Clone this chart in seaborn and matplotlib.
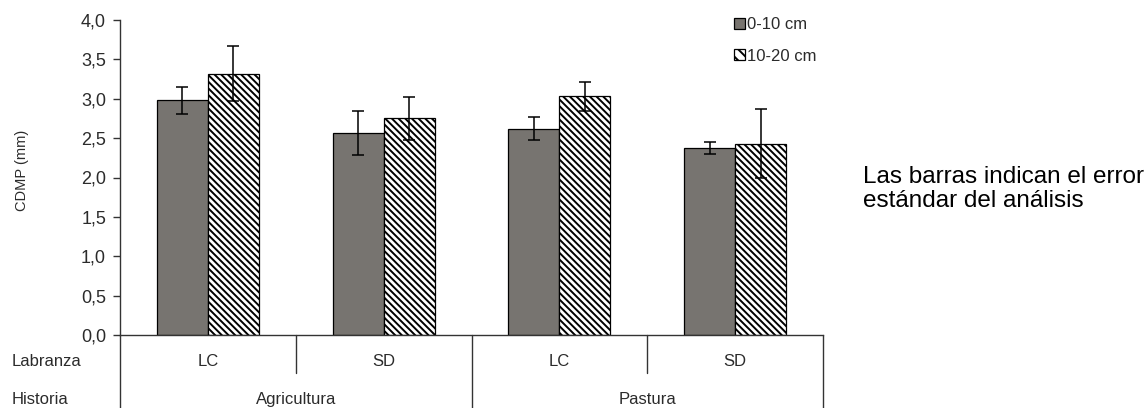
import matplotlib
matplotlib.use("Agg")
import matplotlib.pyplot as plt
import matplotlib.transforms as mtransforms
from matplotlib.lines import Line2D
from matplotlib.patches import Patch
from matplotlib.ticker import FuncFormatter
import pandas as pd
import seaborn as sns

# Mean aggregate diameter (CDMP, mm) by land-use history, tillage and depth
historia = ["Agricultura", "Agricultura", "Pastura", "Pastura"]
labranza = ["LC", "SD", "LC", "SD"]
profundidades = ["0-10 cm", "10-20 cm"]
cdmp_0_10 = [2.98, 2.57, 2.62, 2.37]
cdmp_10_20 = [3.32, 2.75, 3.03, 2.43]
ee_0_10 = [0.17, 0.28, 0.145, 0.075]
ee_10_20 = [0.35, 0.27, 0.18, 0.44]
y_ticks = [0.0, 0.5, 1.0, 1.5, 2.0, 2.5, 3.0, 3.5, 4.0]
nota = "Las barras indican el error\nestándar del análisis"

sns.set_theme(style="white")
plt.rcParams["font.family"] = ["Liberation Sans", "DejaVu Sans"]
plt.rcParams["hatch.linewidth"] = 1.4
plt.rcParams["hatch.color"] = "black"

RAYADO = "\\" * 5

tratamientos = [f"{h}-{l}" for h, l in zip(historia, labranza)]
df = pd.DataFrame({
    "tratamiento": tratamientos * 2,
    "profundidad": [profundidades[0]] * 4 + [profundidades[1]] * 4,
    "cdmp": cdmp_0_10 + cdmp_10_20,
    "ee": ee_0_10 + ee_10_20,
})

W, H = 1145, 408
fig = plt.figure(figsize=(W / 100, H / 100), dpi=100)
ax = fig.add_axes([120 / W, (H - 335) / H, 703 / W, 315 / H])

gris = "#78746f"
txt = "#2b2b2b"
sns.barplot(data=df, x="tratamiento", y="cdmp", hue="profundidad",
            order=tratamientos, hue_order=profundidades,
            palette=[gris, "white"], width=0.58, gap=0,
            errorbar=None, edgecolor="black", linewidth=0.9,
            legend=False, ax=ax)

# hatch the deeper layer and add standard-error bars
bar_groups = list(ax.containers)
for i, cont in enumerate(bar_groups):
    errs = df[df["profundidad"] == profundidades[i]]["ee"].tolist()
    xs, ys = [], []
    for bar in cont:
        if i == 1:
            bar.set_hatch(RAYADO)
        xs.append(bar.get_x() + bar.get_width() / 2)
        ys.append(bar.get_height())
    ax.errorbar(xs, ys, yerr=errs, fmt="none", ecolor="black",
                elinewidth=1.1, capsize=4.5, capthick=1.1, zorder=5)

ax.set_xlim(-0.5, 3.5)
ax.set_ylim(0, 4)
ax.set_yticks(y_ticks)
ax.yaxis.set_major_formatter(FuncFormatter(lambda v, p: f"{v:.1f}".replace(".", ",")))
ax.tick_params(axis="y", left=True, length=5, width=1, color="#333333",
               labelsize=13, labelcolor=txt, pad=5)
ax.tick_params(axis="x", bottom=False, labelbottom=False)
ax.set_xlabel("")
ax.set_ylabel("")
for s in ["top", "right"]:
    ax.spines[s].set_visible(False)
for s in ["left", "bottom"]:
    ax.spines[s].set_color("#333333")
    ax.spines[s].set_linewidth(1)

# category table under the axis
trans = mtransforms.blended_transform_factory(ax.transData, ax.transAxes)
fondo = -0.25
for xv, y0 in [(-0.5, fondo), (0.5, -0.1206), (1.5, fondo), (2.5, -0.1206), (3.5, fondo)]:
    ax.add_line(Line2D([xv, xv], [0, y0], transform=trans, color="#333333",
                       lw=1, clip_on=False))
for i, lab in enumerate(labranza):
    ax.text(i, -0.0857, lab, transform=trans, ha="center", va="center",
            fontsize=12, color=txt)
for xc, lab in [(0.5, "Agricultura"), (2.5, "Pastura")]:
    ax.text(xc, -0.206, lab, transform=trans, ha="center", va="center",
            fontsize=12, color=txt)
fig.text(12 / W, 1 - 362 / H, "Labranza", ha="left", va="center",
         fontsize=12, color=txt)
fig.text(12 / W, 1 - 400 / H, "Historia", ha="left", va="center",
         fontsize=12, color=txt)
fig.text(22 / W, 1 - 170 / H, "CDMP (mm)", rotation=90, ha="center",
         va="center", fontsize=10.5, color=txt)

handles = [Patch(facecolor=gris, edgecolor="black", linewidth=0.9),
           Patch(facecolor="white", edgecolor="black", linewidth=0.9, hatch="\\" * 3)]
leg = fig.legend(handles, profundidades, loc="upper left",
                 bbox_to_anchor=(734 / W, 1 - 17 / H), frameon=False,
                 fontsize=12, handlelength=0.65, handleheight=0.65,
                 handletextpad=0.15, labelspacing=1.0, borderpad=0,
                 borderaxespad=0)
for t in leg.get_texts():
    t.set_color(txt)

fig.text(863 / W, 1 - 189 / H, nota, ha="left", va="center",
         fontsize=17.5, color="black", linespacing=1.1)

fig.savefig("out.png", dpi=100)
